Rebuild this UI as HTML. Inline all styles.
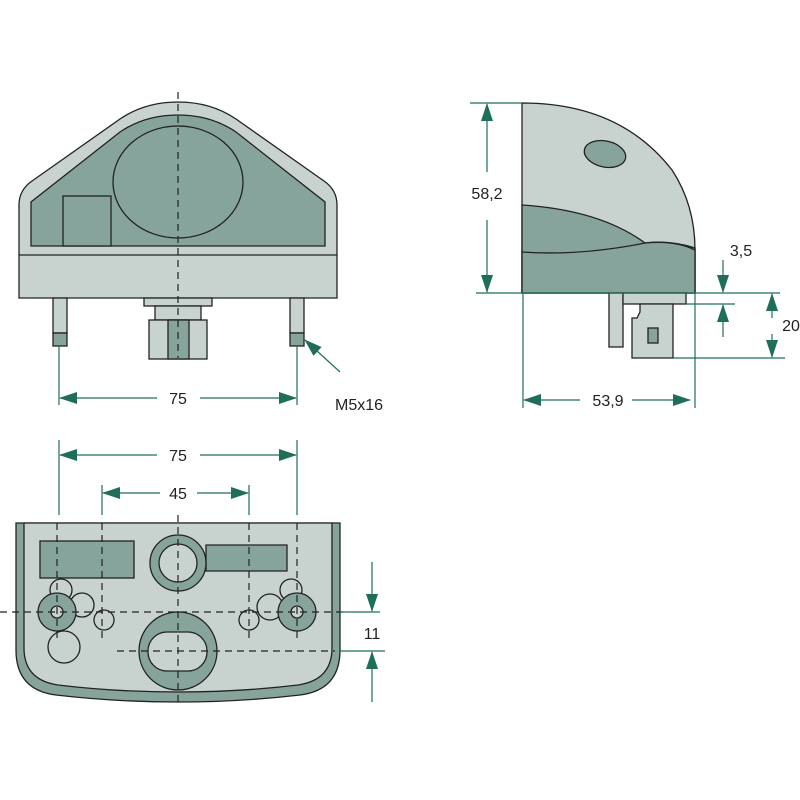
<!DOCTYPE html>
<html><head><meta charset="utf-8"><style>body{margin:0;background:#fff}svg{display:block}</style></head><body>
<svg width="800" height="800" viewBox="0 0 800 800" xmlns="http://www.w3.org/2000/svg" font-family="Liberation Sans, sans-serif" font-size="16">
<defs>
<marker id="a" markerWidth="18" markerHeight="12" refX="17" refY="6" orient="auto" markerUnits="userSpaceOnUse"><path d="M0,0 L18,6 L0,12 Z" fill="#1f6e5a"/></marker>
</defs>
<g stroke="#222" stroke-width="1.3">
<path d="M19,298 L19,205 Q19,190 32,181 L120,119 Q145,102 178,102 Q211,102 236,119 L324,181 Q337,190 337,205 L337,298 Z" fill="#c8d2ce"/>
<path d="M31,246 L31,202 L120,132 Q145,115 178,115 Q211,115 236,132 L325,202 L325,246 Z" fill="#86a49c"/>
<line x1="19" y1="255" x2="337" y2="255"/>
<ellipse cx="178" cy="182" rx="65" ry="56" fill="#86a49c"/>
<rect x="63" y="196" width="48" height="50" fill="#86a49c"/>
<rect x="53" y="298" width="14" height="35" fill="#c8d2ce"/><rect x="53" y="333" width="14" height="13" fill="#86a49c"/>
<rect x="290" y="298" width="14" height="35" fill="#c8d2ce"/><rect x="290" y="333" width="14" height="13" fill="#86a49c"/>
<rect x="144" y="298" width="68" height="8" fill="#c8d2ce"/>
<rect x="155" y="306" width="46" height="14" fill="#c8d2ce"/>
<rect x="149" y="320" width="58" height="39" fill="#c8d2ce"/>
<rect x="168" y="320" width="21" height="39" fill="#86a49c"/>
<path d="M522,103 Q620,103 672,170 Q695,205 695,250 L695,293 L522,293 Z" fill="#c8d2ce"/>
<path d="M522,205 Q600,210 645,243 Q670,240 695,248 L695,293 L522,293 Z" fill="#86a49c"/>
<path d="M522,252 Q580,256 645,243 Q675,240 695,250 L695,293 L522,293 Z" fill="#86a49c"/>
<ellipse cx="605" cy="154" rx="21" ry="13" transform="rotate(12 605 154)" fill="#86a49c"/>
<rect x="609" y="293" width="14" height="54" fill="#c8d2ce"/>
<rect x="623" y="293" width="63" height="11" fill="#c8d2ce"/>
<path d="M640,304 L673,304 L673,358 L632,358 L632,318 L637,318 L640,312 Z" fill="#c8d2ce"/>
<rect x="648" y="328" width="10" height="15" fill="#86a49c"/>
<path d="M16,523 L340,523 L340,650 Q340,690 300,695 Q240,702 178,702 Q116,702 56,695 Q16,690 16,650 Z" fill="#86a49c"/>
<path d="M24,523 L332,523 L332,648 Q332,680 298,685 Q240,692 178,692 Q116,692 58,685 Q24,680 24,648 Z" fill="#c8d2ce"/>
<rect x="40" y="541" width="94" height="37" fill="#86a49c"/>
<path d="M206,545 L287,545 L287,571 L206,571 Z" fill="#86a49c"/>
<circle cx="178" cy="563" r="28" fill="#86a49c"/><circle cx="178" cy="563" r="19" fill="#c8d2ce"/>
<g fill="none"><circle cx="61" cy="590" r="11"/><circle cx="82" cy="605" r="12"/><circle cx="104" cy="620" r="10"/><circle cx="64" cy="647" r="16"/>
<circle cx="291" cy="590" r="11"/><circle cx="270" cy="607" r="13"/><circle cx="249" cy="620" r="10"/></g>
<circle cx="57" cy="612" r="19" fill="#86a49c"/><circle cx="57" cy="612" r="6" fill="#c8d2ce"/>
<circle cx="297" cy="612" r="19" fill="#86a49c"/><circle cx="297" cy="612" r="6" fill="#c8d2ce"/>
<circle cx="178" cy="651" r="39" fill="#86a49c"/>
<rect x="148" y="632" width="59" height="39" rx="19" fill="#c8d2ce"/>
</g>
<g stroke="#222" stroke-width="1.2" stroke-dasharray="7,5" fill="none">
<line x1="178" y1="92" x2="178" y2="358"/>
<line x1="0" y1="612" x2="345" y2="612"/>
<line x1="117" y1="651" x2="335" y2="651"/>
<line x1="178" y1="515" x2="178" y2="705"/>
<line x1="57" y1="523" x2="57" y2="640"/><line x1="102" y1="523" x2="102" y2="640"/>
<line x1="249" y1="523" x2="249" y2="640"/><line x1="297" y1="523" x2="297" y2="640"/>
</g>
<g stroke="#1f6e5a" stroke-width="1.2" fill="none">
<line x1="59" y1="346" x2="59" y2="405"/><line x1="297" y1="346" x2="297" y2="405"/>
<line x1="157" y1="398" x2="60" y2="398" marker-end="url(#a)"/><line x1="200" y1="398" x2="296" y2="398" marker-end="url(#a)"/>
<line x1="340" y1="372" x2="305" y2="340" marker-end="url(#a)"/>
<line x1="59" y1="440" x2="59" y2="515"/><line x1="297" y1="440" x2="297" y2="515"/>
<line x1="102" y1="485" x2="102" y2="515"/><line x1="249" y1="485" x2="249" y2="515"/>
<line x1="157" y1="455" x2="60" y2="455" marker-end="url(#a)"/><line x1="200" y1="455" x2="296" y2="455" marker-end="url(#a)"/>
<line x1="160" y1="493" x2="103" y2="493" marker-end="url(#a)"/><line x1="197" y1="493" x2="248" y2="493" marker-end="url(#a)"/>
<line x1="340" y1="612" x2="380" y2="612"/><line x1="340" y1="651" x2="385" y2="651"/>
<line x1="372" y1="562" x2="372" y2="611" marker-end="url(#a)"/><line x1="372" y1="702" x2="372" y2="652" marker-end="url(#a)"/>
<line x1="470" y1="103" x2="522" y2="103"/><line x1="476" y1="293" x2="780" y2="293"/>
<line x1="487" y1="172" x2="487" y2="104" marker-end="url(#a)"/><line x1="487" y1="220" x2="487" y2="292" marker-end="url(#a)"/>
<line x1="523" y1="293" x2="523" y2="408"/><line x1="695" y1="293" x2="695" y2="408"/>
<line x1="580" y1="400" x2="524" y2="400" marker-end="url(#a)"/><line x1="632" y1="400" x2="690" y2="400" marker-end="url(#a)"/>
<line x1="686" y1="304" x2="735" y2="304"/><line x1="673" y1="358" x2="785" y2="358"/>
<line x1="723" y1="260" x2="723" y2="292" marker-end="url(#a)"/><line x1="723" y1="337" x2="723" y2="305" marker-end="url(#a)"/>
<line x1="772" y1="318" x2="772" y2="294" marker-end="url(#a)"/><line x1="772" y1="334" x2="772" y2="357" marker-end="url(#a)"/>
</g>
<g fill="#222" text-anchor="middle">
<text x="178" y="404">75</text>
<text x="359" y="410">M5x16</text>
<text x="178" y="461">75</text>
<text x="178" y="499">45</text>
<text x="372" y="639">11</text>
<text x="487" y="199">58,2</text>
<text x="608" y="406">53,9</text>
<text x="741" y="256">3,5</text>
<text x="791" y="331">20</text>
</g>
</svg>
</body></html>
